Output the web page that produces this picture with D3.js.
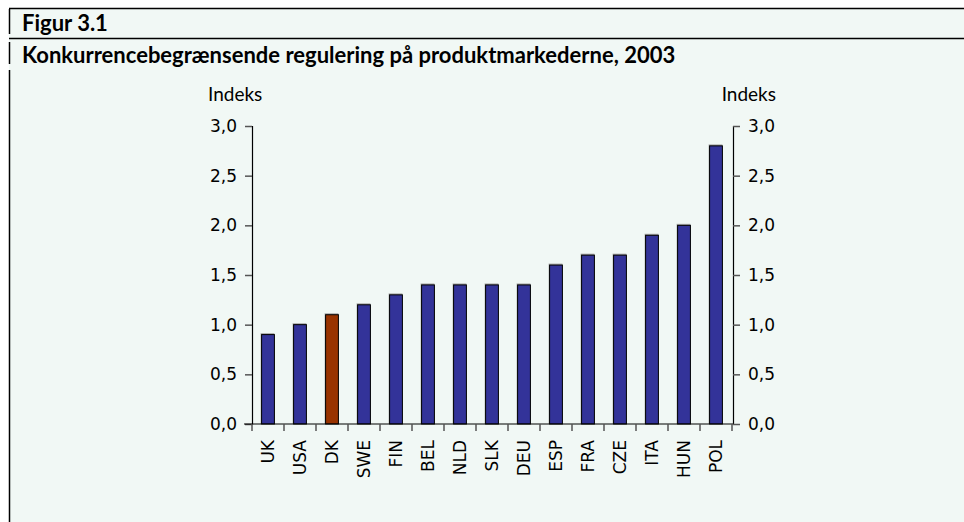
<!DOCTYPE html>
<html>
<head>
<meta charset="utf-8">
<script src="https://cdn.jsdelivr.net/npm/d3@7"></script>
<style>
  body { margin: 0; background: #fff; }
</style>
</head>
<body>
<div id="chart"></div>
<script>
// Countries and index values (2003)
var countries = ['UK', 'USA', 'DK', 'SWE', 'FIN', 'BEL', 'NLD', 'SLK', 'DEU',
  'ESP', 'FRA', 'CZE', 'ITA', 'HUN', 'POL'];
var values = [0.9, 1.0, 1.1, 1.2, 1.3, 1.4, 1.4, 1.4, 1.4, 1.6, 1.7, 1.7, 1.9, 2.0, 2.8];
var yTicks = [0, 0.5, 1.0, 1.5, 2.0, 2.5, 3.0];
var highlight = 'DK';

var W = 964, H = 522;
var svg = d3.select('#chart').append('svg')
  .attr('width', W)
  .attr('height', H);

// panel background
svg.append('rect')
  .attr('x', 9).attr('y', 8)
  .attr('width', W - 9).attr('height', H - 8)
  .attr('fill', '#f1f8f5');

// frame lines
svg.append('line').attr('x1', 9).attr('x2', W).attr('y1', 8.5).attr('y2', 8.5)
  .attr('stroke', '#000').attr('stroke-width', 1.5);
svg.append('line').attr('x1', 9).attr('x2', W).attr('y1', 38.5).attr('y2', 38.5)
  .attr('stroke', '#000').attr('stroke-width', 1.5);
[[9, 34], [42, 64], [70, H]].forEach(function(s) {
  svg.append('line').attr('x1', 9.5).attr('x2', 9.5).attr('y1', s[0]).attr('y2', s[1])
    .attr('stroke', '#000').attr('stroke-width', 1.5);
});

// titles
svg.append('text')
  .attr('x', 22).attr('y', 31)
  .style('font-family', 'Lato, sans-serif')
  .style('font-weight', 'bold')
  .style('font-size', '22px')
  .text('Figur 3.1');
svg.append('text')
  .attr('x', 22).attr('y', 63)
  .style('font-family', 'Lato, sans-serif')
  .style('font-weight', 'bold')
  .style('font-size', '22px')
  .text('Konkurrencebegrænsende regulering på produktmarkederne, 2003');

// plot area
var pLeft = 252, pRight = 732, pTop = 126, pBottom = 424;
var x = d3.scaleBand().domain(countries).range([pLeft, pRight]).paddingInner(0.6).paddingOuter(0.3);
var y = d3.scaleLinear().domain([0, 3]).range([pBottom, pTop]);
var fmt = function(d) { return d3.format('.1f')(d).replace('.', ','); };

// bars (gray shadow, then bar)
var g = svg.append('g');
g.selectAll('rect.shadow')
  .data(values)
  .enter()
  .append('rect')
  .attr('class', 'shadow')
  .attr('x', function(d, i) { return x(countries[i]) - 1; })
  .attr('y', function(d) { return y(d) - 1.5; })
  .attr('width', x.bandwidth() + 1)
  .attr('height', function(d) { return pBottom - y(d) + 1.5; })
  .attr('fill', '#aaaaaa');
g.selectAll('rect.bar')
  .data(values)
  .enter()
  .append('rect')
  .attr('class', 'bar')
  .attr('x', function(d, i) { return x(countries[i]); })
  .attr('y', function(d) { return y(d); })
  .attr('width', x.bandwidth())
  .attr('height', function(d) { return pBottom - y(d); })
  .attr('fill', function(d, i) { return countries[i] === highlight ? '#993300' : '#333399'; })
  .attr('stroke', '#000')
  .attr('stroke-width', 1);

// left axis
var yl = svg.append('g').attr('transform', 'translate(' + pLeft + ',0)')
  .call(d3.axisLeft(y).tickValues(yTicks).tickFormat(fmt).tickSize(7).tickPadding(8));
// right axis
var yr = svg.append('g').attr('transform', 'translate(' + (pRight + 1) + ',0)')
  .call(d3.axisRight(y).tickValues(yTicks).tickFormat(fmt).tickSize(7).tickPadding(8));
[yl, yr].forEach(function(a) {
  a.select('.domain').attr('stroke', '#000').attr('stroke-width', 1.2);
  a.selectAll('.tick line').attr('stroke', '#555').attr('stroke-width', 1.5);
  a.selectAll('text')
    .style('font-family', 'DejaVu Sans, sans-serif')
    .style('font-size', '17px')
    .attr('fill', '#000');
});

// x axis
svg.append('line').attr('x1', pLeft - 8).attr('x2', pRight + 1)
  .attr('y1', pBottom).attr('y2', pBottom)
  .attr('stroke', '#000').attr('stroke-width', 1.2);
var bounds = [pLeft].concat(countries.map(function(c) { return x(c) + x.bandwidth() / 2 + x.step() / 2; }));
svg.selectAll('line.xtick')
  .data(bounds)
  .enter()
  .append('line')
  .attr('class', 'xtick')
  .attr('x1', function(d) { return d; }).attr('x2', function(d) { return d; })
  .attr('y1', pBottom).attr('y2', pBottom + 7)
  .attr('stroke', '#555').attr('stroke-width', 1.5);
svg.selectAll('text.xlab')
  .data(countries)
  .enter()
  .append('text')
  .attr('class', 'xlab')
  .attr('transform', function(d) {
    return 'translate(' + (x(d) + x.bandwidth() / 2 + 6) + ',' + 440 + ') rotate(-90)';
  })
  .style('text-anchor', 'end')
  .style('font-family', 'DejaVu Sans, sans-serif')
  .style('font-size', '17px')
  .text(function(d) { return d; });

// axis unit labels
svg.append('text').attr('x', 208).attr('y', 101)
  .style('font-family', 'Lato, sans-serif').style('font-size', '19px')
  .text('Indeks');
svg.append('text').attr('x', 776).attr('y', 101)
  .style('text-anchor', 'end')
  .style('font-family', 'Lato, sans-serif').style('font-size', '19px')
  .text('Indeks');
</script>
</body>
</html>
